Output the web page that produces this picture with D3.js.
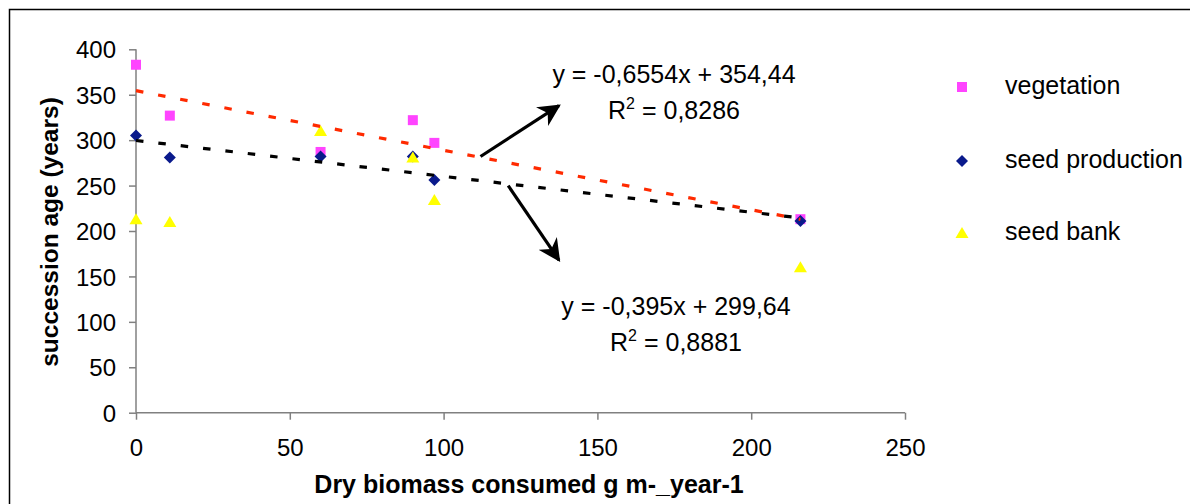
<!DOCTYPE html>
<html>
<head>
<meta charset="utf-8">
<script src="https://cdn.jsdelivr.net/npm/d3@7"></script>
<style>
  body { margin: 0; background: #fff; }
  svg { display: block; font-family: "Liberation Sans", Arial, sans-serif; }
</style>
</head>
<body>
<script>
// dry biomass consumed (g m-2 year-1) at each site
const biomass = [0, 11, 60, 90, 97, 216];
const vegetation = [383, 327, 287, 322, 297, 213];
const seedProduction = [305, 281, 282, 282, 256, 211];
const seedBank = [213, 210, 310, 281, 234, 160];

const seriesNames = ["vegetation", "seed production", "seed bank"];
const xTicks = [0, 50, 100, 150, 200, 250];
const yTicks = [0, 50, 100, 150, 200, 250, 300, 350, 400];

// trendlines as reported in the figure
const trendSlopes = [-0.6554, -0.395];
const trendIntercepts = [354.44, 299.64];
const trendEquations = ["y = -0,6554x + 354,44", "y = -0,395x + 299,64"];
const trendR2 = ["0,8286", "0,8881"];

// arrows, in data units: [x1, y1, x2, y2]
const arrows = [[112, 282, 137.5, 338], [121, 250, 137.5, 168]];

const W = 1190, H = 504;
const svg = d3.select("body").append("svg")
	.attr("width", W)
	.attr("height", H);

// chart frame (right and bottom edges fall outside the picture)
svg.append("rect")
	.attr("x", 9.5).attr("y", 9.5)
	.attr("width", 1200).attr("height", 600)
	.attr("fill", "none")
	.attr("stroke", "#000")
	.attr("stroke-width", 1.5);

const x = d3.scaleLinear().domain([0, 250]).range([136, 905]);
const y = d3.scaleLinear().domain([0, 400]).range([412.7, 49.3]);

const xAxis = svg.append("g")
	.attr("transform", `translate(0,${y(0)})`)
	.call(d3.axisBottom(x).tickValues(xTicks).tickSize(7).tickPadding(19));
xAxis.selectAll("text").attr("font-size", "24px").attr("fill", "#000")
	.attr("font-family", "Liberation Sans, Arial, sans-serif");

const yAxis = svg.append("g")
	.attr("transform", `translate(${x(0)},0)`)
	.call(d3.axisLeft(y).tickValues(yTicks).tickSize(7).tickPadding(13));
yAxis.selectAll("text").attr("font-size", "24px").attr("fill", "#000")
	.attr("dy", "0.36em")
	.attr("font-family", "Liberation Sans, Arial, sans-serif");

svg.selectAll(".domain, .tick line").attr("stroke", "#808080").attr("stroke-width", 1.5);
xAxis.select(".domain").attr("d", `M${x(0)},0H${x(250)}`);
yAxis.select(".domain").attr("d", `M0,${y(0)}V${y(400)}`);

// axis titles
svg.append("text")
	.attr("x", 529)
	.attr("y", 493)
	.attr("text-anchor", "middle")
	.attr("font-size", "25px")
	.attr("font-weight", "bold")
	.text("Dry biomass consumed g m-_year-1");

svg.append("text")
	.attr("transform", `translate(58,232) rotate(-90)`)
	.attr("text-anchor", "middle")
	.attr("font-size", "24.5px")
	.attr("font-weight", "bold")
	.text("succession age (years)");

// marker shapes
const square = d3.symbol().type(d3.symbolSquare).size(100);
const diamond = "M0,-6L6,0L0,6L-6,0Z";
const triangle = "M0,-6L6.5,5L-6.5,5Z";

const shapes = [square(), diamond, triangle];
const colors = ["#ff44ff", "#0a1a8c", "#ffff00"];
const seriesValues = [vegetation, seedProduction, seedBank];

seriesValues.forEach((vals, s) => {
	svg.append("g")
		.selectAll("path")
		.data(vals.map((v, i) => ({ bx: biomass[i], v })))
		.join("path")
		.attr("d", shapes[s])
		.attr("transform", d => `translate(${x(d.bx)},${y(d.v)})`)
		.attr("fill", colors[s]);
});

// trendlines
const trendColors = ["#ff2a00", "#000"];
const xMax = d3.max(biomass);
trendSlopes.forEach((m, i) => {
	const b = trendIntercepts[i];
	svg.append("line")
		.attr("x1", x(0)).attr("y1", y(b))
		.attr("x2", x(xMax)).attr("y2", y(m * xMax + b))
		.attr("stroke", trendColors[i])
		.attr("stroke-width", 3.2)
		.attr("stroke-dasharray", "7.5,15");
});

// arrows
svg.append("defs").append("marker")
	.attr("id", "head")
	.attr("viewBox", "0 0 10 10")
	.attr("refX", 9).attr("refY", 5)
	.attr("markerWidth", 7).attr("markerHeight", 7)
	.attr("markerUnits", "strokeWidth")
	.attr("orient", "auto")
	.append("path")
	.attr("d", "M0,0L10,5L0,10L3,5Z")
	.attr("fill", "#000");

arrows.forEach(a => {
	svg.append("line")
		.attr("x1", x(a[0])).attr("y1", y(a[1]))
		.attr("x2", x(a[2])).attr("y2", y(a[3]))
		.attr("stroke", "#000")
		.attr("stroke-width", 3.2)
		.attr("marker-end", "url(#head)");
});

// equation labels
const eqPos = [[674, 83], [676, 315]];
trendEquations.forEach((eq, i) => {
	const g = svg.append("g").attr("font-size", "25px").attr("text-anchor", "middle");
	g.append("text")
		.attr("x", eqPos[i][0]).attr("y", eqPos[i][1])
		.attr("xml:space", "preserve")
		.text(eq);
	const r = g.append("text")
		.attr("x", eqPos[i][0]).attr("y", eqPos[i][1] + 36);
	r.append("tspan").text("R");
	r.append("tspan").attr("font-size", "16px").attr("dy", -10).text("2");
	r.append("tspan").attr("dy", 10).text(" = " + trendR2[i]);
});

// legend
const legendRows = [87, 161, 233];
seriesNames.forEach((name, i) => {
	svg.append("path")
		.attr("d", shapes[i])
		.attr("transform", `translate(962,${legendRows[i]})`)
		.attr("fill", colors[i]);
	svg.append("text")
		.attr("x", 1005)
		.attr("y", legendRows[i] + 7)
		.attr("font-size", "25px")
		.text(name);
});
</script>
</body>
</html>
